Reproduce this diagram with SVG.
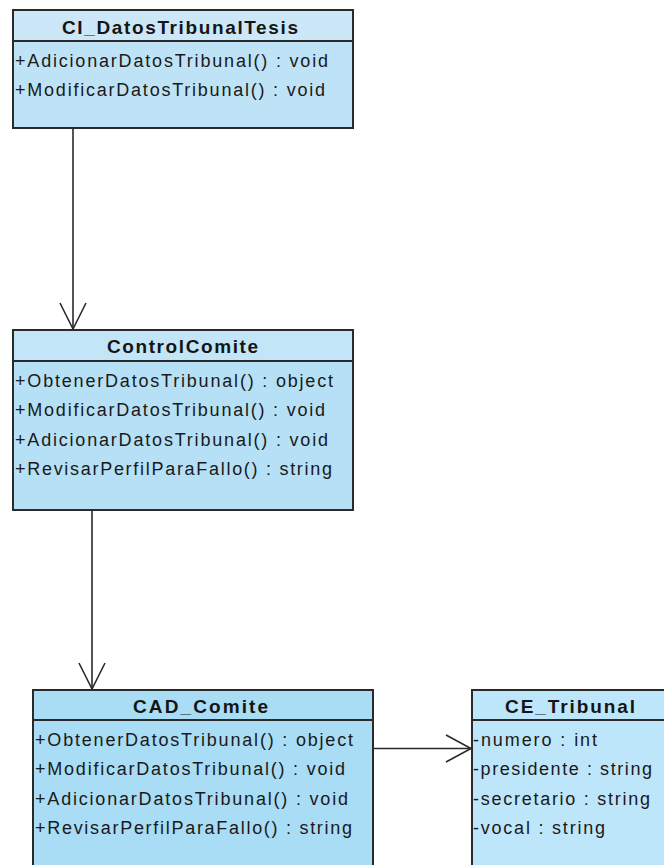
<svg xmlns="http://www.w3.org/2000/svg" width="664" height="865" viewBox="0 0 664 865">
  <defs>
    <style>
      .box { stroke: #2a2a2a; stroke-width: 2; }
      .sep { stroke: #2a2a2a; stroke-width: 2; fill: none; }
      .title { font-family: "Liberation Sans", Arial, sans-serif; font-size: 19px; font-weight: bold; fill: #151515; }
      .member { font-family: "Liberation Sans", Arial, sans-serif; font-size: 18px; fill: #1a1a1a; }
      .edge { stroke: #2a2a2a; stroke-width: 1.6; fill: none; }
      .head { stroke: #2a2a2a; stroke-width: 1.6; fill: none; stroke-linejoin: miter; }
    </style>
  </defs>
  <rect width="664" height="865" fill="#ffffff"/>

  <!-- connectors: navigable associations with open arrowheads -->
  <g id="connectors">
    <line class="edge" x1="73" y1="128" x2="73" y2="329"/>
    <polyline class="head" points="60,303 73,329 86,303"/>
    <line class="edge" x1="92" y1="510" x2="92" y2="689"/>
    <polyline class="head" points="79,663 92,689 105,663"/>
    <line class="edge" x1="373" y1="748.5" x2="471" y2="748.5"/>
    <polyline class="head" points="446,735 471,748.5 446,762"/>
  </g>

  <g id="CI_DatosTribunalTesis">
    <rect class="box" x="13" y="10" width="340" height="118" fill="#bfe3f6"/>
    <rect x="14" y="11" width="338" height="30" fill="#cce8f8"/>
    <line class="sep" x1="13" y1="41" x2="353" y2="41"/>
    <text class="title" x="62" y="33.5" textLength="236" lengthAdjust="spacing">CI_DatosTribunalTesis</text>
    <text class="member" x="15" y="66.5" textLength="313" lengthAdjust="spacing">+AdicionarDatosTribunal() : void</text>
    <text class="member" x="15" y="96" textLength="310" lengthAdjust="spacing">+ModificarDatosTribunal() : void</text>
  </g>

  <g id="ControlComite">
    <rect class="box" x="13" y="330" width="340" height="180" fill="#b6e0f6"/>
    <rect x="14" y="331" width="338" height="30" fill="#c3e5f8"/>
    <line class="sep" x1="13" y1="361" x2="353" y2="361"/>
    <text class="title" x="107" y="353" textLength="151" lengthAdjust="spacing">ControlComite</text>
    <text class="member" x="15" y="386.5" textLength="318" lengthAdjust="spacing">+ObtenerDatosTribunal() : object</text>
    <text class="member" x="15" y="416" textLength="310" lengthAdjust="spacing">+ModificarDatosTribunal() : void</text>
    <text class="member" x="15" y="445.5" textLength="313" lengthAdjust="spacing">+AdicionarDatosTribunal() : void</text>
    <text class="member" x="15" y="475" textLength="317" lengthAdjust="spacing">+RevisarPerfilParaFallo() : string</text>
  </g>

  <g id="CAD_Comite">
    <rect class="box" x="33" y="690" width="340" height="190" fill="#a9dcf5"/>
    <line class="sep" x1="33" y1="720" x2="373" y2="720"/>
    <text class="title" x="133" y="713" textLength="135" lengthAdjust="spacing">CAD_Comite</text>
    <text class="member" x="35" y="745.5" textLength="318" lengthAdjust="spacing">+ObtenerDatosTribunal() : object</text>
    <text class="member" x="35" y="775" textLength="310" lengthAdjust="spacing">+ModificarDatosTribunal() : void</text>
    <text class="member" x="35" y="804.5" textLength="313" lengthAdjust="spacing">+AdicionarDatosTribunal() : void</text>
    <text class="member" x="35" y="834" textLength="317" lengthAdjust="spacing">+RevisarPerfilParaFallo() : string</text>
  </g>

  <g id="CE_Tribunal">
    <rect class="box" x="472" y="690" width="220" height="190" fill="#bee6fa"/>
    <line class="sep" x1="472" y1="720" x2="692" y2="720"/>
    <text class="title" x="505" y="713" textLength="130" lengthAdjust="spacing">CE_Tribunal</text>
    <text class="member" x="473" y="745.5" textLength="124" lengthAdjust="spacing">-numero : int</text>
    <text class="member" x="473" y="775" textLength="179" lengthAdjust="spacing">-presidente : string</text>
    <text class="member" x="473" y="804.5" textLength="177" lengthAdjust="spacing">-secretario : string</text>
    <text class="member" x="473" y="834" textLength="132" lengthAdjust="spacing">-vocal : string</text>
  </g>
</svg>
